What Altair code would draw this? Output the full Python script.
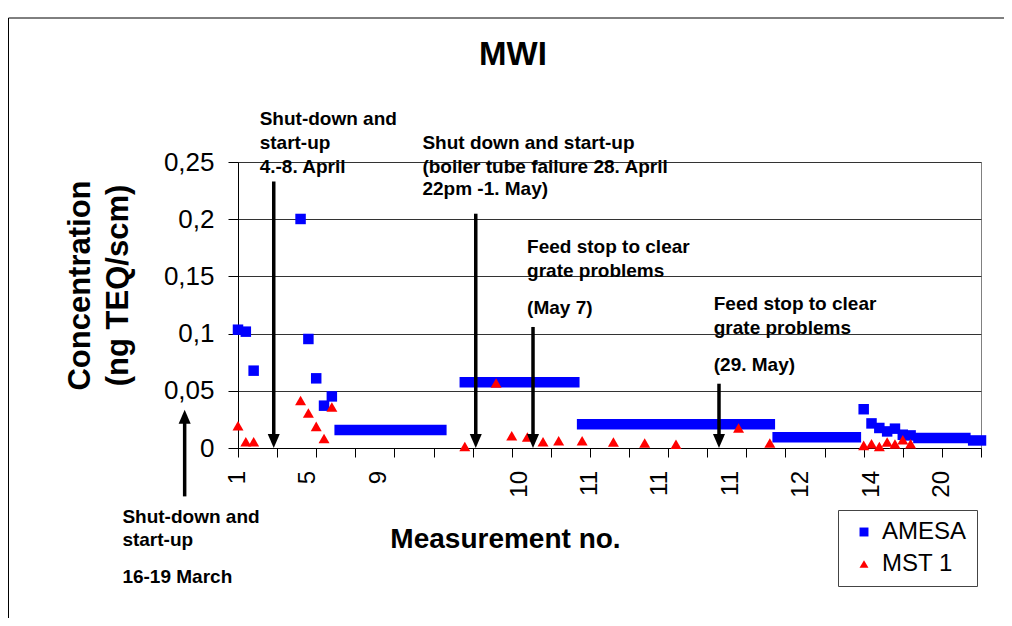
import altair as alt
import pandas as pd

W, H = 743, 286
FONT = "Liberation Sans, Arial, sans-serif"

# ---------------- data (category index along the x axis) ----------------
tick_idx = list(range(0, 96, 5))
lab_idx = [0, 9, 18, 36, 45, 54, 63, 72, 81, 90]
lab_txt = ["1", "5", "9", "10", "11", "11", "11", "12", "14", "20"]

# AMESA single samples
ames_idx = [0, 1, 2, 8, 9, 10, 11, 12, 80, 81, 82, 83, 84, 85, 86]
ames_val = [0.1034, 0.1017, 0.0676, 0.2002, 0.0953, 0.0609, 0.0370, 0.0451,
            0.0339, 0.0215, 0.0175, 0.0145, 0.0169, 0.0116, 0.0110]
# AMESA long-term sampling periods (same value over a run of categories)
per_start = [13, 29, 44, 69, 87, 94]
per_end = [26, 43, 68, 79, 93, 95]
per_val = [0.0157, 0.0575, 0.0207, 0.0094, 0.0087, 0.0066]

# MST 1
mst_idx = [0, 1, 2, 8, 9, 10, 11, 12, 29, 33, 35, 37, 39, 41, 44, 48, 52, 56,
           64, 68, 80, 81, 82, 83, 84, 85, 86]
mst_val = [0.0195, 0.0055, 0.0055, 0.0416, 0.0306, 0.0189, 0.0084, 0.0358,
           0.0014, 0.0568, 0.0108, 0.0096, 0.0055, 0.0064, 0.0064, 0.0052,
           0.0044, 0.0032, 0.0175, 0.0044, 0.0023, 0.0038, 0.0014, 0.0052,
           0.0035, 0.0073, 0.0038]

# event arrows: position, start and tip concentration
arr_idx = [4.57, 30.4, 37.72, 61.5, -6.82]
arr_from = [0.233, 0.2048, 0.1058, 0.0562, -0.0423]
arr_to = [0.0, 0.0, 0.0, 0.0, 0.0335]
arr_dir = ["down", "down", "down", "down", "up"]

# annotation lines
ann_txt = ["Shut-down and", "start-up", "4.-8. April",
           "Shut down and start-up", "(boiler tube failure 28. April", "22pm -1. May)",
           "Feed stop to clear", "grate problems", "(May 7)",
           "Feed stop to clear", "grate problems", "(29. May)",
           "Shut-down and", "start-up", "16-19 March"]
ann_idx = [2.77, 2.77, 2.77,
           23.58, 23.58, 23.58,
           36.96, 36.96, 36.96,
           60.83, 60.83, 60.83,
           -14.78, -14.78, -14.78]
ann_val = [0.2826, 0.2614, 0.2404,
           0.2614, 0.2404, 0.2212,
           0.1707, 0.1497, 0.1174,
           0.1209, 0.0999, 0.0676,
           -0.0654, -0.0855, -0.1178]

series = ["AMESA", "MST 1"]
colors = ["#0000FF", "#FF0000"]
shapes = ["square", "triangle-up"]

# ---------------- frames ----------------
df_am = pd.DataFrame({"x": ames_idx, "y": ames_val, "series": "AMESA"})
df_mst = pd.DataFrame({"x": mst_idx, "y": mst_val, "series": "MST 1"})
df_per = pd.DataFrame({"x": per_start, "x2": per_end, "y": per_val, "series": "AMESA"})
df_arr = pd.DataFrame({"x": arr_idx, "y": arr_from, "y2": arr_to, "dir": arr_dir})
df_ann = pd.DataFrame({"x": ann_idx, "y": ann_val, "t": ann_txt})
df_lab = pd.DataFrame({"x": lab_idx, "t": lab_txt})
df_one = pd.DataFrame({"a": [0]})

xs = alt.Scale(domain=[0, 95], nice=False, zero=False)
ys = alt.Scale(domain=[0, 0.25], nice=False, zero=False)
cs = alt.Scale(domain=series, range=colors)
ss = alt.Scale(domain=series, range=shapes)

leg = alt.Legend(orient="none", legendX=600, legendY=348, title=None,
                 labelFontSize=24, labelFont=FONT, labelColor="black",
                 symbolSize=80, symbolStrokeWidth=0, padding=10,
                 strokeColor="#444", fillColor="white", rowPadding=8,
                 labelOffset=6, symbolOffset=4)

x_axis = alt.Axis(values=tick_idx, labels=False, grid=False, tickSize=9,
                  tickColor="black", domainColor="black",
                  title="Measurement no.", titleFont=FONT, titleFontSize=28,
                  titleFontWeight="bold", titleColor="black", titleX=267, titleY=99,
                  titleBaseline="alphabetic", titleAlign="center")
y_axis = alt.Axis(values=[0, 0.05, 0.1, 0.15, 0.2, 0.25],
                  labelExpr="replace(format(datum.value, '~g'), '.', ',')",
                  labelFont=FONT, labelFontSize=26, labelPadding=14, labelColor="black",
                  tickSize=10, tickColor="black", domainColor="black",
                  grid=True, gridColor="#333",
                  title=["Concentration", "(ng TEQ/scm)"], titleFont=FONT,
                  titleFontSize=31, titleFontWeight="bold", titleColor="black",
                  titleAngle=270, titleAlign="center", titleBaseline="top",
                  titleX=-173, titleY=123, titleLineHeight=38)


def X(f):
    return alt.X(f, type="quantitative", scale=xs, axis=x_axis)


def Y(f):
    return alt.Y(f, type="quantitative", scale=ys, axis=y_axis)


frame = alt.Chart(df_one).mark_rect(fillOpacity=0, stroke="black", strokeWidth=1).encode(
    x=alt.value(-229.5), x2=alt.value(1200), y=alt.value(-144), y2=alt.value(900))

am_pts = alt.Chart(df_am).mark_point(filled=True, size=110, opacity=1).encode(
    x=X("x"), y=Y("y"),
    color=alt.Color("series:N", scale=cs, legend=leg),
    shape=alt.Shape("series:N", scale=ss, legend=leg),
)
am_per = alt.Chart(df_per).mark_rule(strokeWidth=10.5, strokeCap="square").encode(
    x=X("x"), x2="x2:Q", y=Y("y"),
    color=alt.Color("series:N", scale=cs, legend=leg),
)
mst_pts = alt.Chart(df_mst).mark_point(filled=True, size=121, opacity=1).encode(
    x=X("x"), y=Y("y"),
    color=alt.Color("series:N", scale=cs, legend=leg),
    shape=alt.Shape("series:N", scale=ss, legend=leg),
)

down = df_arr[df_arr["dir"] == "down"]
up = df_arr[df_arr["dir"] == "up"]
shaft_d = alt.Chart(down).mark_rule(strokeWidth=3.5, color="black", y2Offset=-10).encode(
    x=X("x"), y=Y("y"), y2="y2:Q")
shaft_u = alt.Chart(up).mark_rule(strokeWidth=3.5, color="black", y2Offset=10).encode(
    x=X("x"), y=Y("y"), y2="y2:Q")
head_d = alt.Chart(down).mark_point(filled=True, opacity=1, color="black", size=196,
                                    shape="M-0.86,-1L0.86,-1L0,1Z", yOffset=-7).encode(
    x=X("x"), y=Y("y2"))
head_u = alt.Chart(up).mark_point(filled=True, opacity=1, color="black", size=196,
                                  shape="M-0.86,1L0.86,1L0,-1Z", yOffset=7).encode(
    x=X("x"), y=Y("y2"))

ann = alt.Chart(df_ann).mark_text(font=FONT, fontSize=19, fontWeight="bold", align="left",
                                  baseline="alphabetic", color="black").encode(
    x=X("x"), y=Y("y"), text="t:N")

xlabels = alt.Chart(df_lab).mark_text(font=FONT, fontSize=24, angle=270, align="right",
                                      baseline="middle", color="black").encode(
    x=X("x"), y=alt.value(H + 23), text="t:N")

title = alt.Chart(df_one).mark_text(font=FONT, fontSize=33, fontWeight="bold", align="center",
                                    baseline="alphabetic", color="black").encode(
    x=alt.value(275), y=alt.value(-97), text=alt.value("MWI"))

chart = alt.layer(frame, am_pts, am_per, mst_pts, shaft_d, shaft_u, head_d, head_u,
                  ann, xlabels, title).properties(
    width=W, height=H,
    autosize=alt.AutoSizeParams(type="none"),
    padding={"left": 230, "top": 154, "right": 23, "bottom": 170},
    background="white",
).configure_view(stroke="#808080", strokeWidth=1)

chart.save("out.html", embed_options={"renderer": "svg", "actions": False})
